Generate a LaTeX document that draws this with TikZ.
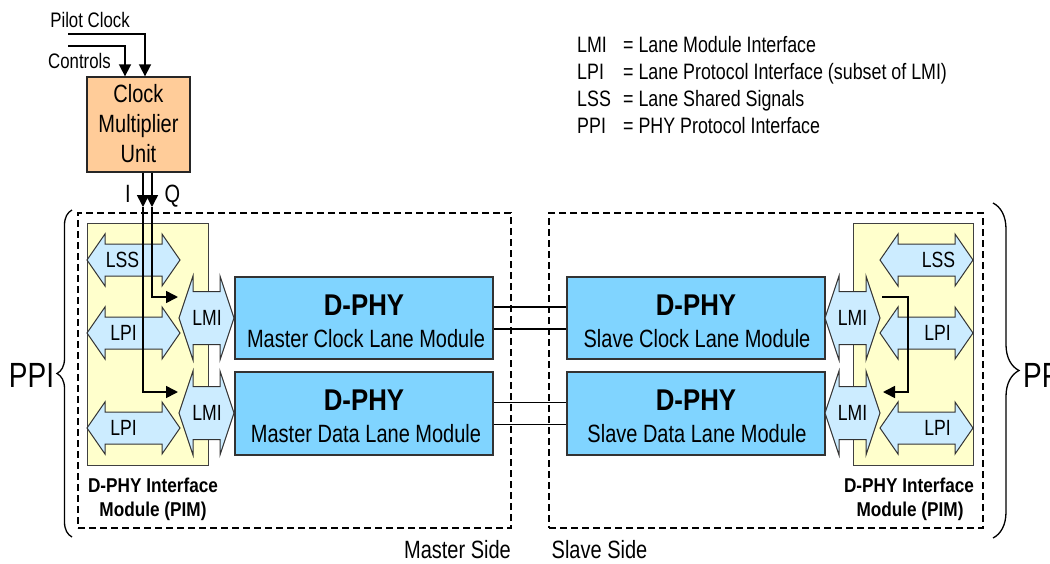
\documentclass[tikz,border=0pt]{standalone}
\usepackage{fontspec}
\usetikzlibrary{arrows.meta,decorations.pathreplacing}

\newfontfamily\rg{Liberation Sans}[FakeStretch=0.8]
\newfontfamily\bd{Liberation Sans}[FakeStretch=0.86]
\newcommand\fsz[1]{\fontsize{#1}{#1}\selectfont}

\definecolor{cmuorange}{HTML}{FFCC99}
\definecolor{pimyellow}{HTML}{FFFFCC}
\definecolor{lanecyan}{HTML}{80D4FF}
\definecolor{sigblue}{HTML}{CCECFF}

% double-headed signal arrow: name, cx, cy, half length, head length, half head height, half shaft height
\newcommand\sigarrow[7]{%
  \draw[sigshape] (#2-#4,#3) -- (#2-#4+#5,#3-#6) -- (#2-#4+#5,#3-#7)
    -- (#2+#4-#5,#3-#7) -- (#2+#4-#5,#3-#6) -- (#2+#4,#3)
    -- (#2+#4-#5,#3+#6) -- (#2+#4-#5,#3+#7) -- (#2-#4+#5,#3+#7)
    -- (#2-#4+#5,#3+#6) -- cycle;
  \coordinate (#1) at (#2,#3);}

\tikzset{
  cmubox/.style={draw=black!85, line width=1.3pt, fill=cmuorange,
    minimum width=103pt, minimum height=95pt, inner sep=0pt},
  lanebox/.style={draw=black!80, line width=1.3pt, fill=lanecyan,
    minimum width=258pt, minimum height=82pt, inner sep=0pt},
  pimbox/.style={draw=black!75, line width=1pt, fill=pimyellow,
    minimum height=242pt, inner sep=0pt},
  sidebox/.style={draw=black, line width=1.4pt, dash pattern=on 7pt off 4pt,
    minimum height=315pt, inner sep=0pt},
  sigshape/.style={draw=black!80, line width=1pt, fill=sigblue},
  wire/.style={line width=1.6pt, black},
  feed/.style={wire, -{Triangle[length=12pt,width=12pt]}},
  bracket/.style={line width=1.3pt, decorate},
  lbl/.style={inner sep=0pt, anchor=base, font=\rg\fsz{25}},
  sig/.style={inner sep=0pt, anchor=base, font=\rg\fsz{22}},
  leg/.style={inner sep=0pt, anchor=base west, font=\rg\fsz{22.3}},
  title/.style={inner sep=0pt, anchor=base, font=\bd\bfseries\fsz{30}},
  pimlbl/.style={inner sep=0pt, anchor=base, font=\bd\bfseries\fsz{20}},
  iface/.style={inner sep=0pt, anchor=base, font=\rg\fsz{35}},
}

\begin{document}
\begin{tikzpicture}[x=1pt,y=-1pt]
\useasboundingbox (0,0) rectangle (1050,563);
\clip (0,0) rectangle (1050,563);

% master and slave sides
\node[sidebox, minimum width=433pt] (mside) at (294.5,370.5) {};
\node[sidebox, minimum width=434pt] (sside) at (766,370.5) {};

% interface modules
\node[pimbox, minimum width=121pt] (pimL) at (147.5,344) {};
\node[pimbox, minimum width=120pt] (pimR) at (913,344) {};

% lane modules
\node[lanebox] (mc) at (364,318) {};
\node[lanebox, minimum height=83pt] (md) at (364,413.5) {};
\node[lanebox] (sc) at (696,318) {};
\node[lanebox, minimum height=83pt] (sd) at (696,413.5) {};

% clock multiplier
\node[cmubox] (cmu) at (138.5,124.5) {};
\node[lbl, align=center, font=\rg\fontsize{25}{30}\selectfont, anchor=center] (cmuT) at (138.5,124) {Clock\\Multiplier\\Unit};

% signal arrows, master side
\sigarrow{lssL}{133.5}{260}{46.5}{18}{26}{16}
\sigarrow{lpiL1}{133.5}{333}{46.5}{18}{26}{16}
\sigarrow{lpiL2}{133.5}{428}{46.5}{18}{26}{16}
\sigarrow{lmiL1}{206.5}{318}{27.5}{14}{42}{26.5}
\sigarrow{lmiL2}{206.5}{413}{27.5}{14}{42}{26.5}

% signal arrows, slave side
\sigarrow{lssR}{926.5}{260}{46.5}{18}{26}{16}
\sigarrow{lpiR1}{926.5}{333}{46.5}{18}{26}{16}
\sigarrow{lpiR2}{926.5}{428}{46.5}{18}{26}{16}
\sigarrow{lmiR1}{852.5}{318}{27.5}{14}{42}{26.5}
\sigarrow{lmiR2}{852.5}{413}{27.5}{14}{42}{26.5}

% lane interconnect
\draw[wire] ([yshift=11pt]mc.east) -- ([yshift=11pt]sc.west);
\draw[wire] ([yshift=-11pt]mc.east) -- ([yshift=-11pt]sc.west);
\draw[wire] ([yshift=11pt]md.east) -- ([yshift=11pt]sd.west);
\draw[wire] ([yshift=-11pt]md.east) -- ([yshift=-11pt]sd.west);

% pilot clock and controls into the multiplier
\coordinate (pcIn) at (68,34);
\coordinate (ctIn) at (68,46);
\draw[feed] (pcIn) -| ([xshift=6.5pt]cmu.north);
\draw[feed] (ctIn) -| ([xshift=-13.5pt]cmu.north);

% I and Q clocks to the master lane interfaces
\coordinate (iMid) at (143,207);
\coordinate (qMid) at (152,207);
\coordinate (iTurn) at (143,392);
\coordinate (iEnd) at (178,392);
\coordinate (qTurn) at (152,297);
\coordinate (qEnd) at (178,297);
\draw[feed] ([xshift=4.5pt]cmu.south) -- (iMid);
\draw[feed] ([xshift=13.5pt]cmu.south) -- (qMid);
\draw[feed] (iMid) -- (iTurn) -- (iEnd);
\draw[feed] (qMid) -- (qTurn) -- (qEnd);

% slave clock forwarded to the data lane
\coordinate (rStart) at (882,297);
\coordinate (rTop) at (908,297);
\coordinate (rBot) at (908,392);
\coordinate (rEnd) at (883,392);
\draw[feed] (rStart) -- (rTop) -- (rBot) -- (rEnd);

% PPI braces
\draw[bracket, decoration={brace, amplitude=15pt}] (72,537) -- (72,210);
\draw[bracket, decoration={brace, amplitude=26pt}] (993,203) -- (993,538);

% labels
\node[lbl, font=\rg\fsz{21}] (pcT) at (90,27) {Pilot Clock};
\node[lbl, font=\rg\fsz{21}] (ctT) at (79.5,68) {Controls};
\node[lbl] (iT) at (128,202) {I};
\node[lbl] (qT) at (172.5,202) {Q};

\node[title] (mcA) at (364,315) {D-PHY};
\node[lbl] (mcB) at (366,347) {Master Clock Lane Module};
\node[title] (mdA) at (364,410) {D-PHY};
\node[lbl] (mdB) at (366,442) {Master Data Lane Module};
\node[title] (scA) at (696,315) {D-PHY};
\node[lbl] (scB) at (697,347) {Slave Clock Lane Module};
\node[title] (sdA) at (696,410) {D-PHY};
\node[lbl] (sdB) at (697,442) {Slave Data Lane Module};

\node[sig] (lssLT) at (122.5,267) {LSS};
\node[sig] (lpiL1T) at (123.5,340) {LPI};
\node[sig] (lpiL2T) at (123.5,435) {LPI};
\node[sig] (lmiL1T) at (207,325) {LMI};
\node[sig] (lmiL2T) at (207,420) {LMI};
\node[sig] (lssRT) at (938.5,267) {LSS};
\node[sig] (lpiR1T) at (937.5,340) {LPI};
\node[sig] (lpiR2T) at (937.5,435) {LPI};
\node[sig] (lmiR1T) at (852.5,325) {LMI};
\node[sig] (lmiR2T) at (852.5,420) {LMI};

\node[pimlbl] (pimLA) at (153,492) {D-PHY Interface};
\node[pimlbl] (pimLB) at (153,516) {Module (PIM)};
\node[pimlbl] (pimRA) at (909,492) {D-PHY Interface};
\node[pimlbl] (pimRB) at (910,516) {Module (PIM)};

\node[lbl] (msT) at (457.5,558) {Master Side};
\node[lbl] (ssT) at (599.5,558) {Slave Side};

\node[iface] (ppiL) at (31.5,387) {PPI};
\node[iface, anchor=base west] (ppiR) at (1023,387) {PPI};

% legend
\node[leg] (k1) at (577,52) {LMI};
\node[leg] (d1) at (623,52) {= Lane Module Interface};
\node[leg] (k2) at (577,79.5) {LPI};
\node[leg] (d2) at (623,79.5) {= Lane Protocol Interface (subset of LMI)};
\node[leg] (k3) at (577,106.5) {LSS};
\node[leg] (d3) at (623,106.5) {= Lane Shared Signals};
\node[leg] (k4) at (577,133) {PPI};
\node[leg] (d4) at (623,133) {= PHY Protocol Interface};
\end{tikzpicture}
\end{document}
